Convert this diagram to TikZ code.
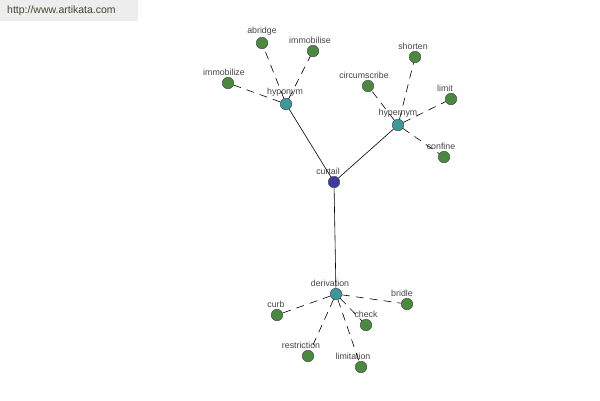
\documentclass[tikz,border=0pt]{standalone}
\usepackage{fontspec}
\setmainfont{Liberation Sans}
\definecolor{leafc}{HTML}{4A8A3E}
\definecolor{hubc}{HTML}{3A9A9A}
\definecolor{rootc}{HTML}{3C3CA0}
\definecolor{labc}{HTML}{444444}
\definecolor{wmc}{HTML}{3E4A2E}
\begin{document}
\begin{tikzpicture}[x=1pt,y=-1pt,
  dot/.style={circle,draw=black!70,line width=0.5pt,inner sep=0pt,minimum size=11.5pt},
  leaf/.style={dot,fill=leafc},
  hub/.style={dot,fill=hubc},
  rootn/.style={dot,fill=rootc},
  lab/.style={font=\fontsize{8.8}{9}\selectfont,text=labc,inner sep=0pt},
  solidedge/.style={draw=black,line width=0.6pt},
  dashedge/.style={draw=black,line width=0.6pt,dash pattern=on 8pt off 6pt}]
\useasboundingbox (0,0) rectangle (600,400);
\fill[white] (0,0) rectangle (600,400);
\fill[black!7] (0,0) rectangle (138,21);
\node[anchor=west,text=wmc,font=\fontsize{10.5}{12}\selectfont,inner sep=0pt] (wm) at (7,11) {http://www.artikata.com};
% nodes
\node[rootn,label={[lab,xshift=-6pt,yshift=1pt]above:curtail}] (curtail) at (334,182) {};
\node[hub,label={[lab,xshift=-1pt,yshift=1pt]above:hyponym}] (hyponym) at (286,104) {};
\node[hub,label={[lab,xshift=0pt,yshift=1pt]above:hypernym}] (hypernym) at (398,125) {};
\node[hub,label={[lab,xshift=-6pt,yshift=1pt]above:derivation}] (derivation) at (336,294) {};
\node[leaf,label={[lab,xshift=0pt,yshift=1pt]above:abridge}] (abridge) at (262,43) {};
\node[leaf,label={[lab,xshift=-3pt,yshift=1pt]above:immobilise}] (immobilise) at (313,51) {};
\node[leaf,label={[lab,xshift=-4pt,yshift=1pt]above:immobilize}] (immobilize) at (228,83) {};
\node[leaf,label={[lab,xshift=-2pt,yshift=1pt]above:shorten}] (shorten) at (415,57) {};
\node[leaf,label={[lab,xshift=-4pt,yshift=1pt]above:circumscribe}] (circumscribe) at (368,86) {};
\node[leaf,label={[lab,xshift=-6pt,yshift=1pt]above:limit}] (limit) at (451,99) {};
\node[leaf,label={[lab,xshift=-3pt,yshift=1pt]above:confine}] (confine) at (444,157) {};
\node[leaf,label={[lab,xshift=-1pt,yshift=1pt]above:curb}] (curb) at (277,315) {};
\node[leaf,label={[lab,xshift=-5pt,yshift=1pt]above:bridle}] (bridle) at (407,304) {};
\node[leaf,label={[lab,xshift=0pt,yshift=1pt]above:check}] (check) at (366,325) {};
\node[leaf,label={[lab,xshift=-7pt,yshift=1pt]above:restriction}] (restriction) at (308,356) {};
\node[leaf,label={[lab,xshift=-8pt,yshift=1pt]above:limitation}] (limitation) at (361,367) {};
% edges
\draw[solidedge] (curtail) -- (hyponym);
\draw[solidedge] (curtail) -- (hypernym);
\draw[solidedge] (curtail) -- (derivation);
\foreach \t in {abridge,immobilise,immobilize}
  \draw[dashedge] (hyponym) -- (\t);
\foreach \t in {shorten,circumscribe,limit,confine}
  \draw[dashedge] (hypernym) -- (\t);
\foreach \t in {curb,bridle,check,restriction,limitation}
  \draw[dashedge] (derivation) -- (\t);
\end{tikzpicture}
\end{document}
